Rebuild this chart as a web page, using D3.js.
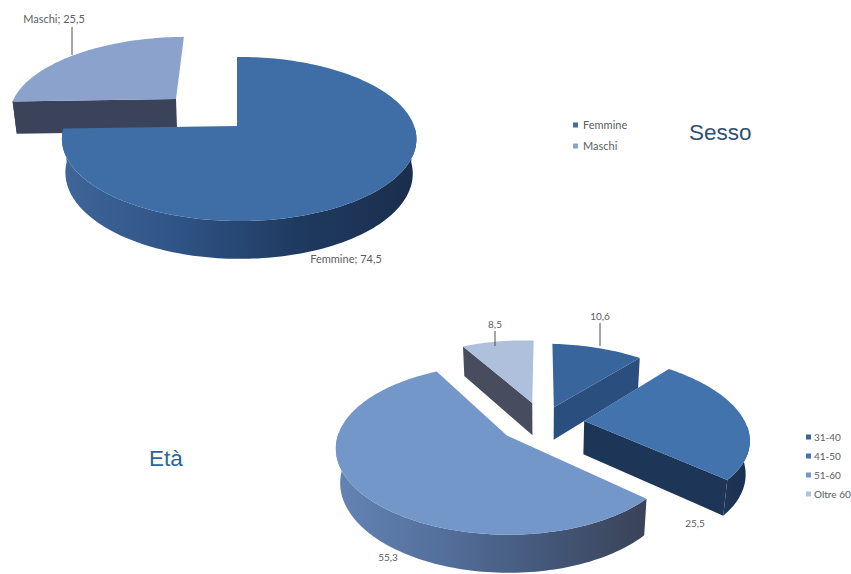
<!DOCTYPE html>
<html lang="it">
<head>
<meta charset="utf-8">
<title>Sesso ed età</title>
<script src="https://cdn.jsdelivr.net/npm/d3@7"></script>
<style>
  html, body { margin: 0; padding: 0; background: #fff; }
  svg { display: block; }
  text { font-family: Lato, "Open Sans", sans-serif; fill: #5a5d63; }
  .title { font-family: "Liberation Sans", Arial, sans-serif; font-size: 22.5px; }
</style>
</head>
<body>
<script>
// Sesso
const sessoCategories = ["Femmine", "Maschi"];
const sessoValues = [74.5, 25.5];
const sessoLabels = ["Femmine; 74,5", "Maschi; 25,5"];

// Età
const etaCategories = ["31-40", "41-50", "51-60", "Oltre 60"];
const etaValues = [10.6, 25.5, 55.3, 8.5];
const etaLabels = ["10,6", "25,5", "55,3", "8,5"];

const width = 851, height = 574;
const svg = d3.select("body").append("svg").attr("width", width).attr("height", height);
const defs = svg.append("defs");
const keyOf = (s) => s.replace(/[^a-z0-9]/gi, "");

// Perspective projection of the pie's plane: u to the right, v toward the viewer, z downward.
function projector({ cx, cy, a, b, k, j, t, m, depth }) {
  return (u, v, z) => {
    const s = 1 / (1 - k * v - j * u + m * z);
    return [cx + b * u * s, cy + (a * v + t * u + depth * z) * s];
  };
}

function drawPie(cfg) {
  const project = projector(cfg.view);
  const arcs = d3.pie().sort(null)(cfg.values);
  const line = d3.line();

  // Nearer slices are painted later.
  cfg.order.forEach((i) => {
    const d = arcs[i], st = cfg.styles[i];
    const mid = (d.startAngle + d.endAngle) / 2;
    const ou = st.explode * Math.sin(mid), ov = -st.explode * Math.cos(mid);
    const pt = (a, r, z) => project(ou + r * Math.sin(a), ov - r * Math.cos(a), z);
    const n = Math.max(8, Math.ceil((d.endAngle - d.startAngle) * 40));
    const angles = d3.range(n + 1).map((q) => d.startAngle + (d.endAngle - d.startAngle) * q / n);

    const g = svg.append("g").attr("class", "slice");
    const cutFace = (a) => g.append("path")
      .attr("d", line([pt(a, 0, 0), pt(a, 1, 0), pt(a, 1, 1), pt(a, 0, 1)]) + "Z")
      .attr("fill", st.cut);

    // A cut face shows only when its normal points toward the viewer.
    if (Math.sin(d.startAngle) < -1e-6) cutFace(d.startAngle);
    if (Math.sin(d.endAngle) > 1e-6) cutFace(d.endAngle);

    // Outer wall, front half only, shaded left to right
    const front = angles.filter((a) => Math.cos(a) < 0);
    if (front.length > 1) {
      const upper = front.map((a) => pt(a, 1, 0));
      const lower = front.map((a) => pt(a, 1, 1)).reverse();
      const xs = d3.extent(upper, (p) => p[0]);
      const id = "wall" + keyOf(cfg.categories[i]);
      const grad = defs.append("linearGradient").attr("id", id)
        .attr("gradientUnits", "userSpaceOnUse")
        .attr("x1", xs[0]).attr("x2", xs[1]).attr("y1", 0).attr("y2", 0);
      st.wall.forEach((c, q) => {
        grad.append("stop").attr("offset", q / (st.wall.length - 1)).attr("stop-color", c);
      });
      g.append("path").attr("d", line(upper.concat(lower)) + "Z").attr("fill", `url(#${id})`);
    }

    // Top surface
    g.append("path")
      .attr("d", line([pt(d.startAngle, 0, 0)].concat(angles.map((a) => pt(a, 1, 0)))) + "Z")
      .attr("fill", st.top);
  });

  // Leader lines and value labels
  cfg.labels.forEach((l, i) => {
    if (l.leader) {
      svg.append("line")
        .attr("x1", l.leader[0]).attr("x2", l.leader[0])
        .attr("y1", l.leader[1]).attr("y2", l.leader[2])
        .attr("stroke", "#4a4f57").attr("stroke-width", 1);
    }
    svg.append("text")
      .attr("x", l.x).attr("y", l.y).attr("text-anchor", "middle")
      .style("font-size", cfg.fontSize + "px")
      .text(cfg.texts[i]);
  });

  // Legend
  const y = d3.scalePoint().domain(cfg.categories).range(cfg.legend.range);
  const legend = svg.append("g").attr("class", "legend");
  cfg.categories.forEach((c, i) => {
    legend.append("rect")
      .attr("x", cfg.legend.x).attr("y", y(c) - 2.5).attr("width", 5).attr("height", 5)
      .attr("fill", cfg.styles[i].top);
    legend.append("text")
      .attr("x", cfg.legend.x + cfg.legend.gap).attr("y", y(c) + 3.5)
      .style("font-size", cfg.fontSize + "px")
      .text(c);
  });
}

drawPie({
  categories: sessoCategories,
  values: sessoValues,
  texts: sessoLabels,
  fontSize: 11,
  order: [1, 0],
  view: { cx: 237, cy: 126, a: 80, b: 175, k: 0.158, j: 0.012, t: 0, m: 0.02, depth: 34.5 },
  styles: [
    { explode: 0, top: "#3f6ea6", cut: "#2a4a74", wall: ["#3f6699", "#2f5385", "#1f3a60", "#1a2e4c"] },
    { explode: 0.515, top: "#8ba3cc", cut: "#3a4359", wall: ["#3a4359", "#3a4359"] }
  ],
  labels: [
    { x: 346, y: 263 },
    { x: 54, y: 23, leader: [72, 27, 55] }
  ],
  legend: { x: 573, gap: 10, range: [125, 146] }
});

drawPie({
  categories: etaCategories,
  values: etaValues,
  texts: etaLabels,
  fontSize: 10,
  order: [3, 0, 1, 2],
  view: { cx: 543, cy: 422, a: 78, b: 163, k: 0.16, j: 0, t: 4, m: 0.02, depth: 34 },
  styles: [
    { explode: 0.21, top: "#38659b", cut: "#2a4f7f", wall: ["#2a4f7f", "#24446f"] },
    { explode: 0.255, top: "#4273ad", cut: "#1d3557", wall: ["#1d3557", "#1c3050"] },
    { explode: 0.28, top: "#7497c9", cut: "#3b4559", wall: ["#6484b4", "#54709c", "#44587a", "#3a4357"] },
    { explode: 0.26, top: "#afc0dd", cut: "#474d5e", wall: ["#474d5e", "#474d5e"] }
  ],
  labels: [
    { x: 600, y: 320, leader: [600, 323, 346] },
    { x: 695, y: 527 },
    { x: 388, y: 561 },
    { x: 495, y: 328, leader: [495, 331, 346] }
  ],
  legend: { x: 806, gap: 8, range: [437, 494] }
});

// Section titles
svg.append("text").attr("class", "title").attr("x", 689).attr("y", 140).style("fill", "#2f5173").text("Sesso");
svg.append("text").attr("class", "title").attr("x", 149).attr("y", 466).style("fill", "#2c6596").text("Età");
</script>
</body>
</html>
